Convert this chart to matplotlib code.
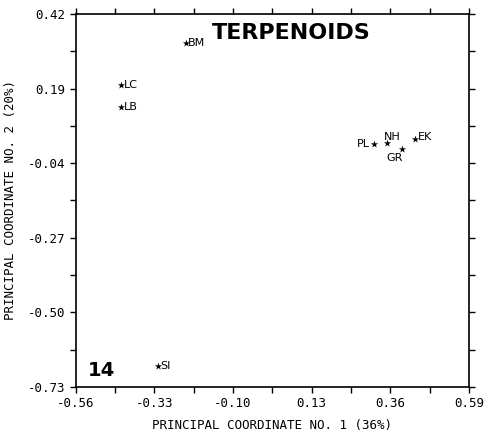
import matplotlib
matplotlib.use('Agg')
import matplotlib.pyplot as plt
import numpy as np

# sample positions
names = ['BM', 'LC', 'LB', 'PL', 'NH', 'GR', 'EK', 'SI']
pc1 = [-0.238, -0.428, -0.428, 0.312, 0.350, 0.394, 0.432, -0.320]
pc2 = [0.330, 0.201, 0.133, 0.019, 0.022, 0.004, 0.035, -0.665]
# label offsets in points (dx, dy) and alignment
label_pos = {
    'BM': (1.5, 0, 'left', 'center'),
    'LC': (2, 0, 'left', 'center'),
    'LB': (2, 0, 'left', 'center'),
    'PL': (-3, 0, 'right', 'center'),
    'NH': (-2, 1, 'left', 'bottom'),
    'GR': (-5, -3, 'center', 'top'),
    'EK': (2, 1, 'left', 'center'),
    'SI': (2, 0, 'left', 'center'),
}

xticks = [-0.56, -0.33, -0.10, 0.13, 0.36, 0.59]
yticks = [0.42, 0.19, -0.04, -0.27, -0.50, -0.73]

mono = 'DejaVu Sans Mono'

fig = plt.figure(figsize=(4.89, 4.37), dpi=100)
ax = fig.add_axes([0.155, 0.1144, 0.804, 0.8536])

ax.scatter(pc1, pc2, marker='*', s=30, color='black', linewidths=0, zorder=3)
for n, x, y in zip(names, pc1, pc2):
    dx, dy, ha, va = label_pos[n]
    ax.annotate(n, (x, y), xytext=(dx, dy), textcoords='offset points',
                ha=ha, va=va, fontsize=8, family='DejaVu Sans')

ax.set_xlim(-0.56, 0.59)
ax.set_ylim(-0.73, 0.42)
ax.set_xticks(xticks)
ax.set_yticks(yticks)
ax.set_xticklabels(['%.2f' % v for v in xticks], family=mono, fontsize=9)
ax.set_yticklabels(['%.2f' % v for v in yticks], family=mono, fontsize=9)
ax.set_xticks(np.arange(-0.56, 0.60, 0.115), minor=True)
ax.set_yticks(np.arange(-0.73, 0.43, 0.115), minor=True)
ax.tick_params(which='both', direction='out', length=4, width=1, color='black')
ax.tick_params(which='minor', labelleft=False, labelbottom=False)
ax.tick_params(which='both', top=True, right=True)

ax.set_xlabel('PRINCIPAL COORDINATE NO. 1 (36%)', family=mono, fontsize=9, labelpad=6)
ax.set_ylabel('PRINCIPAL COORDINATE NO. 2 (20%)', family=mono, fontsize=9, labelpad=8)

for s in ax.spines.values():
    s.set_linewidth(1.2)

ax.text(0.345, 0.95, 'TERPENOIDS', transform=ax.transAxes, fontsize=16,
        fontweight='bold', ha='left', va='center')
ax.text(0.03, 0.045, '14', transform=ax.transAxes, fontsize=14,
        fontweight='bold', ha='left', va='center')

fig.savefig('out.png', dpi=100)
